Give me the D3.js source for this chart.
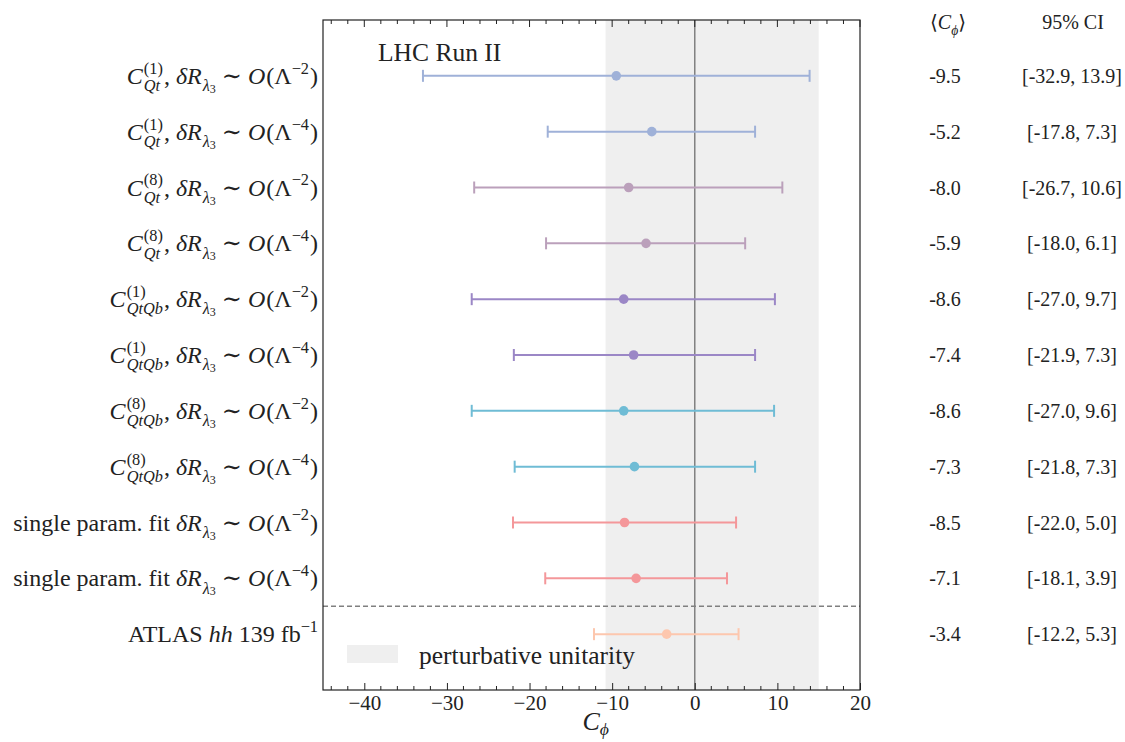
<!DOCTYPE html>
<html><head><meta charset="utf-8">
<script src="https://cdn.jsdelivr.net/npm/d3@7"></script>
<style>body{margin:0;background:#fff}svg{display:block}text{white-space:pre}</style>
</head><body>
<svg id="c" width="1125" height="742"></svg>
<script>
// ---- data ----
const opSub   = ["Qt","Qt","Qt","Qt","QtQb","QtQb","QtQb","QtQb",null,null,null];
const opSup   = ["(1)","(1)","(8)","(8)","(1)","(1)","(8)","(8)",null,null,null];
const orders  = ["−2","−4","−2","−4","−2","−4","−2","−4","−2","−4",null];
const means   = [-9.5,-5.2,-8.0,-5.9,-8.6,-7.4,-8.6,-7.3,-8.5,-7.1,-3.4];
const lows    = [-32.9,-17.8,-26.7,-18.0,-27.0,-21.9,-27.0,-21.8,-22.0,-18.1,-12.2];
const highs   = [13.9,7.3,10.6,6.1,9.7,7.3,9.6,7.3,5.0,3.9,5.3];
const colors  = ["#9fb1d8","#9fb1d8","#bba0bb","#bba0bb","#9b87c6","#9b87c6","#6fbcd5","#6fbcd5","#f4979a","#f4979a","#fdc7ae"];
const band    = [-10.8, 15.0];
const xTicks  = [-40,-30,-20,-10,0,10,20];

const svg = d3.select("#c");
const L = 323, R = 860, T = 20, B = 690;
const x = d3.scaleLinear().domain([-45, 20]).range([L, R]);
const y = d3.scaleLinear().domain([0, 12]).range([T, B]);
const FONT = "'Liberation Serif','DejaVu Serif',serif";

// band
svg.append("rect").attr("x", x(band[0])).attr("y", T).attr("width", x(band[1]) - x(band[0])).attr("height", B - T).attr("fill", "#efefef");
// zero line
svg.append("line").attr("x1", x(0)).attr("x2", x(0)).attr("y1", T).attr("y2", B).attr("stroke", "#808080").attr("stroke-width", 1.5);
// dashed separator
svg.append("line").attr("x1", L).attr("x2", R).attr("y1", y(10.5)).attr("y2", y(10.5)).attr("stroke", "#808080").attr("stroke-width", 1.3).attr("stroke-dasharray", "5,3");

// error bars
means.forEach((m, i) => {
  const g = svg.append("g").attr("stroke", colors[i]).attr("stroke-width", 2);
  const yy = y(i + 1);
  g.append("line").attr("x1", x(lows[i])).attr("x2", x(highs[i])).attr("y1", yy).attr("y2", yy);
  g.append("line").attr("x1", x(lows[i])).attr("x2", x(lows[i])).attr("y1", yy - 6).attr("y2", yy + 6);
  g.append("line").attr("x1", x(highs[i])).attr("x2", x(highs[i])).attr("y1", yy - 6).attr("y2", yy + 6);
  svg.append("circle").attr("cx", x(m)).attr("cy", yy).attr("r", 4.8).attr("fill", colors[i]);
});

// axes (ticks inward)
const minor = d3.range(-44, 21, 2).filter(v => v % 10 !== 0);
const axB = d3.axisBottom(x).tickValues(xTicks).tickSize(-7).tickPadding(5).tickFormat(d => d < 0 ? "−" + Math.abs(d) : d);
const gb = svg.append("g").attr("transform", `translate(0,${B})`).call(axB);
gb.select(".domain").remove();
gb.selectAll("text").attr("font-family", FONT).attr("font-size", 21).attr("fill", "#222");
gb.selectAll("line").attr("stroke", "#222");
minor.forEach(v => {
  svg.append("line").attr("x1", x(v)).attr("x2", x(v)).attr("y1", B).attr("y2", B - 4).attr("stroke", "#222");
  svg.append("line").attr("x1", x(v)).attr("x2", x(v)).attr("y1", T).attr("y2", T + 4).attr("stroke", "#222");
});
xTicks.forEach(v => {
  svg.append("line").attr("x1", x(v)).attr("x2", x(v)).attr("y1", T).attr("y2", T + 7).attr("stroke", "#222");
});
svg.append("rect").attr("x", L).attr("y", T).attr("width", R - L).attr("height", B - T).attr("fill", "none").attr("stroke", "#222").attr("stroke-width", 1.2);

// rich text helper
function rich(parent, pieces, xRight, yBase, size) {
  const g = parent.append("g");
  let cx = 0;
  function put(p, xx) {
    const t = g.append("text").attr("x", xx).attr("y", yBase + (p.dy || 0) * size)
      .attr("font-family", FONT).attr("font-size", (p.s || 1) * size)
      .attr("font-style", p.i ? "italic" : "normal").attr("fill", "#222").text(p.t);
    return t.node().getComputedTextLength();
  }
  pieces.forEach(p => {
    if (p.stack) {
      let w = 0;
      p.stack.forEach(q => { w = Math.max(w, put(q, cx)); });
      cx += w + (p.gap || 0);
    } else {
      cx += put(p, cx) + (p.gap || 0);
    }
  });
  g.attr("transform", `translate(${xRight - cx},0)`);
  return g;
}
const SS = 0.68;
function orderPieces(o) {
  return [
    {t: "δ", i: true}, {t: "R", i: true, gap: 1},
    {t: "λ", i: true, s: SS, dy: 0.3}, {t: "3", s: 0.5, dy: 0.38, gap: 6},
    {t: "∼", gap: 6}, {t: "O", i: true, gap: 1}, {t: "(Λ"}, {t: o, s: SS, dy: -0.42, gap: 1}, {t: ")"}
  ];
}
means.forEach((m, i) => {
  let pieces;
  if (opSub[i]) {
    pieces = [{t: "C", i: true, gap: 1},
      {stack: [{t: opSup[i], s: SS, dy: -0.42}, {t: opSub[i], s: SS, dy: 0.3, i: true}], gap: 1},
      {t: ", "}].concat(orderPieces(orders[i]));
  } else if (orders[i]) {
    pieces = [{t: "single param. fit "}].concat(orderPieces(orders[i]));
  } else {
    pieces = [{t: "ATLAS "}, {t: "hh", i: true}, {t: " 139 fb"}, {t: "−1", s: SS, dy: -0.42}];
  }
  rich(svg, pieces, 318, y(i + 1) + 8, 24);
});

// table
const tbl = svg.append("g").attr("font-family", FONT).attr("font-size", 20).attr("fill", "#222").attr("text-anchor", "middle");
means.forEach((m, i) => {
  tbl.append("text").attr("x", 945).attr("y", y(i + 1) + 7).text(m.toFixed(1));
  tbl.append("text").attr("x", 1072).attr("y", y(i + 1) + 7).text(`[${lows[i].toFixed(1)}, ${highs[i].toFixed(1)}]`);
});
rich(svg, [{t: "⟨"}, {t: "C", i: true}, {t: "ϕ", i: true, s: SS, dy: 0.3}, {t: "⟩"}], 966, 29, 20);
tbl.append("text").attr("x", 1073).attr("y", 29).text("95% CI");

// annotations
svg.append("text").attr("x", 378).attr("y", 61).attr("font-family", FONT).attr("font-size", 25.5).attr("fill", "#222").text("LHC Run II");
svg.append("rect").attr("x", 347).attr("y", 645).attr("width", 51).attr("height", 18).attr("fill", "#efefef");
svg.append("text").attr("x", 419).attr("y", 664).attr("font-family", FONT).attr("font-size", 25.5).attr("fill", "#222").text("perturbative unitarity");

// x label
rich(svg, [{t: "C", i: true}, {t: "ϕ", i: true, s: SS, dy: 0.2}], 609, 730, 26);
</script>
</body></html>
